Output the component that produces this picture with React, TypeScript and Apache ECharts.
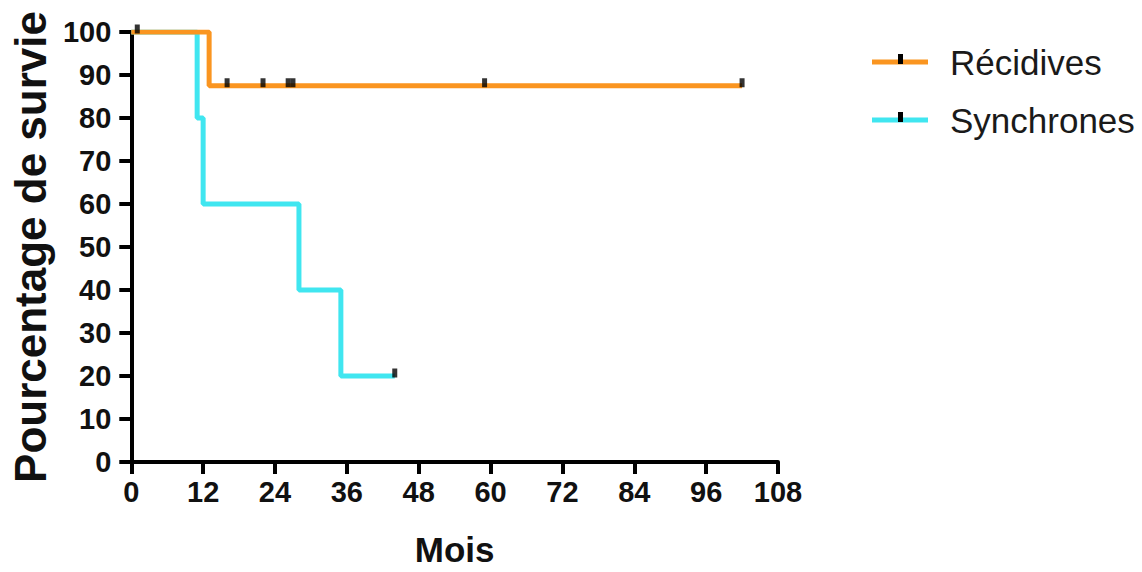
import React, { useEffect, useRef } from "react";
import * as echarts from "echarts";

// Kaplan-Meier survival steps (months, % survival)
const recidivesSteps: [number, number][] = [
  [0, 100],
  [13, 87.5],
  [102, 87.5],
];
const recidivesCensored: [number, number][] = [
  [1, 100],
  [16, 87.5],
  [22, 87.5],
  [26.2, 87.5],
  [27, 87.5],
  [59, 87.5],
  [102, 87.5],
];
const synchronesSteps: [number, number][] = [
  [0, 100],
  [11, 80],
  [12, 60],
  [28, 40],
  [35, 20],
  [44, 20],
];
const synchronesCensored: [number, number][] = [[44, 20]];

const seriesNames = ["Récidives", "Synchrones"];
const seriesColors = ["#FA9520", "#40E6F0"];
const xTickInterval = 12;
const xMax = 108;
const yTickInterval = 10;
const yMax = 100;
const xTitle = "Mois";
const yTitle = "Pourcentage de survie";

const FONT = "'Liberation Sans', Arial, Helvetica, sans-serif";

export default function App() {
  const ref = useRef<HTMLDivElement>(null);
  useEffect(() => {
    if (!ref.current) return;
    const chart = echarts.init(ref.current, undefined, { renderer: "svg" });
    const axisCommon = {
      axisLine: { show: true, lineStyle: { color: "#000", width: 4 } },
      axisTick: { show: true, length: 12, lineStyle: { color: "#000", width: 4 } },
      splitLine: { show: false },
    };
    const legendItems: any[] = [];
    seriesNames.forEach((name, i) => {
      const cy = 62 + i * 58;
      legendItems.push(
        {
          type: "line",
          shape: { x1: 872, y1: cy, x2: 928, y2: cy },
          style: { stroke: seriesColors[i], lineWidth: 5 },
        },
        {
          type: "rect",
          shape: { x: 898, y: cy - 8, width: 5, height: 10 },
          style: { fill: "#000" },
        },
        {
          type: "text",
          style: {
            text: name,
            x: 950,
            y: cy,
            fill: "#1a1a1a",
            font: `35px ${FONT}`,
            verticalAlign: "middle",
            align: "left",
          },
        }
      );
    });
    chart.setOption({
      animation: false,
      backgroundColor: "#fff",
      grid: { left: 127, right: 364, top: 32, bottom: 106, containLabel: false },
      xAxis: {
        type: "value",
        min: 0,
        max: xMax,
        interval: xTickInterval,
        name: xTitle,
        nameLocation: "middle",
        nameGap: 70,
        nameTextStyle: { fontFamily: FONT, fontWeight: "bold", fontSize: 35, color: "#111" },
        axisLabel: { margin: 15, fontFamily: FONT, fontWeight: "bold", fontSize: 29, color: "#111" },
        ...axisCommon,
      },
      yAxis: {
        type: "value",
        min: 0,
        max: yMax,
        interval: yTickInterval,
        name: yTitle,
        nameLocation: "middle",
        nameGap: 70,
        nameRotate: 90,
        nameTextStyle: { fontFamily: FONT, fontWeight: "bold", fontSize: 44, color: "#111" },
        axisLabel: { margin: 20, fontFamily: FONT, fontWeight: "bold", fontSize: 29, color: "#111" },
        ...axisCommon,
      },
      series: [
        {
          name: seriesNames[1],
          type: "line",
          step: "end",
          data: synchronesSteps,
          showSymbol: false,
          lineStyle: { color: seriesColors[1], width: 5 },
          z: 2,
        },
        {
          name: seriesNames[0],
          type: "line",
          step: "end",
          data: recidivesSteps,
          showSymbol: false,
          lineStyle: { color: seriesColors[0], width: 5 },
          z: 3,
        },
        {
          name: seriesNames[0] + " censurés",
          type: "scatter",
          data: recidivesCensored,
          symbol: "rect",
          symbolSize: [5, 9],
          symbolOffset: [0, -3],
          itemStyle: { color: "#000" },
          z: 4,
        },
        {
          name: seriesNames[1] + " censurés",
          type: "scatter",
          data: synchronesCensored,
          symbol: "rect",
          symbolSize: [5, 9],
          symbolOffset: [0, -3],
          itemStyle: { color: "#000" },
          z: 4,
        },
      ],
      graphic: legendItems,
    });
    return () => chart.dispose();
  }, []);
  return (
    <div
      ref={ref}
      style={{ position: "fixed", left: 0, top: 0, width: 1142, height: 572 }}
    />
  );
}
